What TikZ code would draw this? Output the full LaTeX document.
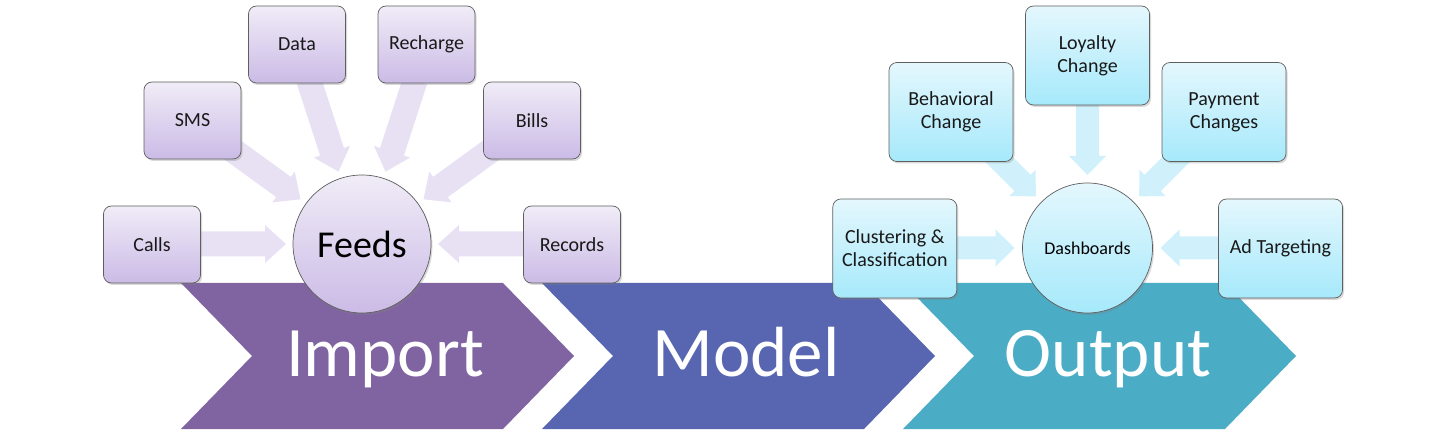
\documentclass[tikz,border=0pt]{standalone}
\usepackage{fontspec}
\setmainfont{Carlito}
\usetikzlibrary{shadows}
\definecolor{impc}{HTML}{8064A2}
\definecolor{modc}{HTML}{5866B2}
\definecolor{outc}{HTML}{4BACC6}
\definecolor{ptop}{HTML}{F0ECF7}
\definecolor{pbot}{HTML}{CBBBE6}
\definecolor{ctop}{HTML}{E4F7FD}
\definecolor{cbot}{HTML}{A6E9FB}
\definecolor{parr}{HTML}{E8E1F3}
\definecolor{carr}{HTML}{D0F1FB}
\definecolor{edge}{HTML}{5F5F5F}
\tikzset{
  boxbase/.style={draw=edge, line width=0.7pt, rounded corners=8pt, align=center,
    font=\fontsize{20}{23}\selectfont, text=black!90, inner sep=0pt,
    drop shadow={shadow xshift=1.5pt, shadow yshift=-2pt, opacity=0.3}},
  pbox/.style={boxbase, top color=ptop, bottom color=pbot, minimum width=97pt, minimum height=77pt},
  cbox/.style={boxbase, top color=ctop, bottom color=cbot, minimum width=124pt, minimum height=99pt},
  hubbase/.style={circle, draw=edge, line width=0.7pt, inner sep=0pt, text=black,
    drop shadow={shadow xshift=1.5pt, shadow yshift=-2pt, opacity=0.3}},
  phub/.style={hubbase, top color=ptop, bottom color=pbot, minimum size=138pt, font=\fontsize{38}{40}\selectfont},
  chub/.style={hubbase, top color=ctop, bottom color=cbot, minimum size=130pt, font=\fontsize{18}{20}\selectfont},
  chevtext/.style={text=white, font=\fontsize{71}{75}\selectfont, inner sep=0pt, anchor=base}
}
% radial block arrow: centre, angle, tip radius, start radius, head length, head half width, shaft half width, colour
\newcommand\radarrow[8]{%
  \begin{scope}[shift={#1}, rotate=#2]
    \fill[#8] (#3,0) -- ({#3+#5},#6) -- ({#3+#5},#7) -- (#4,#7) -- (#4,-#7) -- ({#3+#5},-#7) -- ({#3+#5},-#6) -- cycle;
  \end{scope}}
\begin{document}
\begin{tikzpicture}[x=1pt,y=-1pt]
\useasboundingbox (0,0) rectangle (1450,443);
% chevrons
\fill[impc] (181,283) -- (503,283) -- (574,356) -- (503,429) -- (181,429) -- (252,356) -- cycle;
\fill[modc] (542,283) -- (864,283) -- (935,356) -- (864,429) -- (542,429) -- (613,356) -- cycle;
\fill[outc] (903,283) -- (1225,283) -- (1296,356) -- (1225,429) -- (903,429) -- (974,356) -- cycle;
\node[chevtext] (import) at (385,376) {Import};
\node[chevtext] (model) at (746,376) {Model};
\node[chevtext] (output) at (1108,376) {Output};
% left arrows
\foreach \a in {0,36,72,108,144,180}{\radarrow{(362,244)}{\a}{76}{172}{21}{19}{12.5}{parr}}
% right arrows
\foreach \a in {0,45,90,135,180}{\radarrow{(1087.5,248)}{\a}{73}{150}{19}{18.5}{11.5}{carr}}
% left group
\node[phub] (feeds) at (362,244) {Feeds};
\node[pbox] (calls) at (152,244.5) {Calls};
\node[pbox] (sms) at (192.5,120.5) {SMS};
\node[pbox] (data) at (297,44.5) {Data};
\node[pbox] (recharge) at (426.5,44.5) {Recharge};
\node[pbox] (bills) at (532,120.5) {Bills};
\node[pbox] (records) at (572,244.5) {Records};
% right group
\node[chub] (dash) at (1087.5,248) {Dashboards};
\node[cbox] (clust) at (894.8,248.5) {Clustering \&\\Classification};
\node[cbox] (behav) at (951,112) {Behavioral\\Change};
\node[cbox] (loyal) at (1087.5,55.5) {Loyalty\\Change};
\node[cbox] (pay) at (1224,112) {Payment\\Changes};
\node[cbox] (adt) at (1280.5,248.5) {Ad Targeting};
\end{tikzpicture}
\end{document}
